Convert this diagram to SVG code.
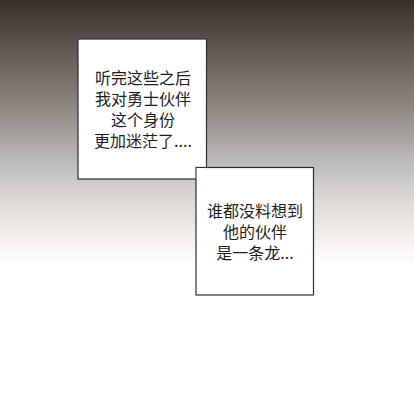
<svg xmlns="http://www.w3.org/2000/svg" width="414" height="402" viewBox="0 0 414 402">
<defs>
<linearGradient id="bg" x1="0" y1="0" x2="0" y2="402" gradientUnits="userSpaceOnUse">
<stop offset="0" stop-color="#3a302b"/>
<stop offset="0.1" stop-color="#58504a"/>
<stop offset="0.2" stop-color="#79716a"/>
<stop offset="0.3" stop-color="#9a938e"/>
<stop offset="0.4" stop-color="#bcbab9"/>
<stop offset="0.5" stop-color="#dcd9d6"/>
<stop offset="0.6" stop-color="#f5f2ee"/>
<stop offset="0.66" stop-color="#ffffff"/>
<stop offset="1" stop-color="#ffffff"/>
</linearGradient>
<style>
.box{fill:#ffffff;stroke:#2e2e2e;stroke-width:1.2}
.t{font-family:"Noto Sans CJK SC","Noto Sans CJK JP",sans-serif;font-size:16px;fill:#1e1e1e;text-anchor:middle}
</style>
</defs>
<rect x="0" y="0" width="414" height="402" fill="url(#bg)"/>
<g id="box1">
<rect class="box" x="78" y="39" width="128.5" height="140"/>
</g>
<g id="box2">
<rect class="box" x="196" y="167.5" width="117.5" height="127.5"/>
</g>
<rect x="196.8" y="168.2" width="9" height="10.2" fill="#ffffff"/>
<g id="text1">
<text class="t" x="143" y="84">听完这些之后</text>
<text class="t" x="143" y="105">我对勇士伙伴</text>
<text class="t" x="143" y="126">这个身份</text>
<text class="t" x="143" y="147">更加迷茫了....</text>
</g>
<g id="text2">
<text class="t" x="255" y="217">谁都没料想到</text>
<text class="t" x="255" y="238">他的伙伴</text>
<text class="t" x="255" y="259">是一条龙...</text>
</g>
</svg>
